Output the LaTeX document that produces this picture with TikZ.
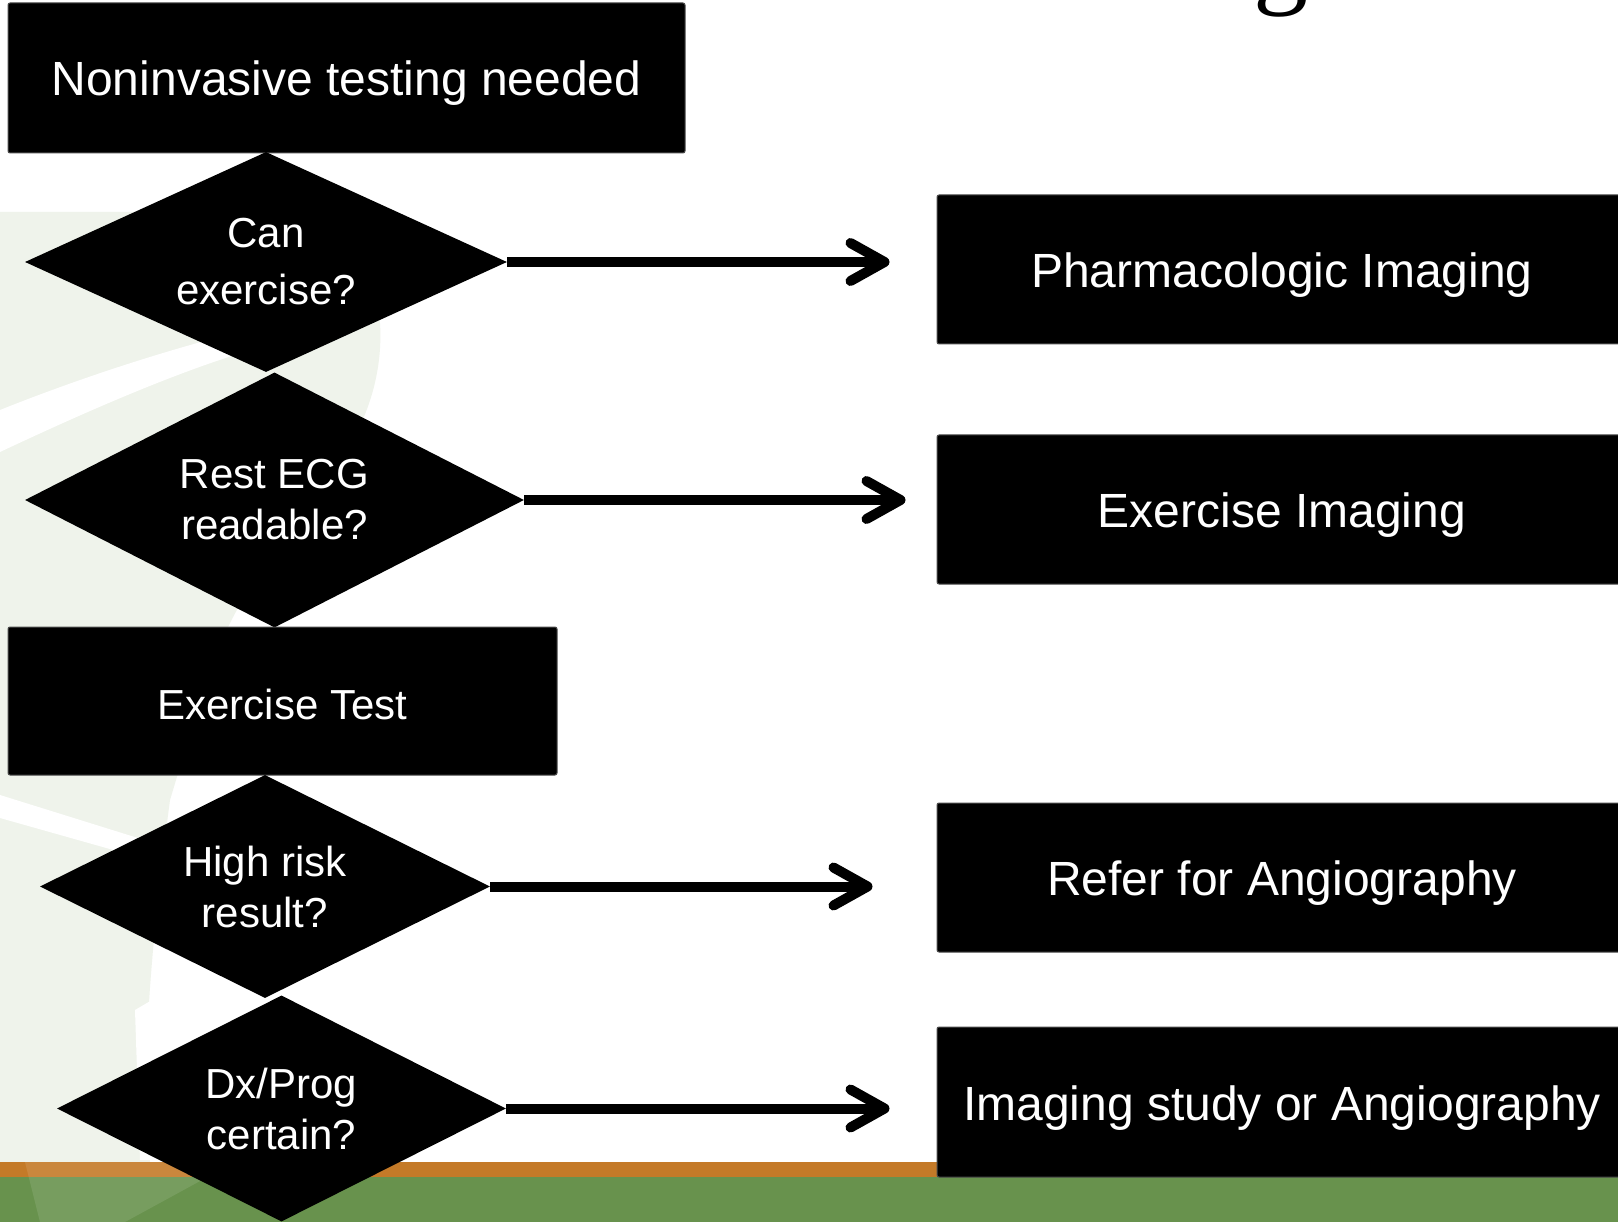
\documentclass[tikz,border=0pt]{standalone}
\usepackage{fontspec}
\setmainfont{Liberation Sans}
\newfontfamily\titlefont{Liberation Serif}
\usetikzlibrary{shapes.geometric,arrows.meta}
\definecolor{bandorange}{RGB}{196,122,40}
\definecolor{bandgreen}{RGB}{104,146,77}
\definecolor{swoosh}{RGB}{239,243,235}
\newcommand\BoxFont{\fontsize{48}{55}\selectfont}
\newcommand\AskFont{\fontsize{42}{51}\selectfont}

\begin{document}
\begin{tikzpicture}[x=1pt,y=-1pt,% y runs downwards, 1 unit = 1 pixel of the slide
		every node/.style={
			align=center,		% so that "\\" breaks the line
			inner sep=0pt
		},
		box/.style={rectangle,fill=black,draw=black!70,line width=1pt,rounded corners=2pt,text=white,font=\BoxFont,
			text height=44pt,text depth=8pt},	% keeps the baseline where the slide has it
		ask/.style={diamond,aspect=2.2,fill=black,text=white,font=\AskFont},
		every edge/.style={draw,line width=10pt,-{Straight Barb[length=34pt,width=38pt,round]}}
	]
	\useasboundingbox (0,0) rectangle (1618,1222);
	\clip (0,0) rectangle (1618,1222);
	% slide background
	\fill[white] (0,0) rectangle (1618,1222);
	\fill[swoosh] (0,212) -- (290,212) .. controls (400,225) and (405,390) .. (330,470)
		.. controls (260,560) and (215,640) .. (200,700) -- (170,800)
		.. controls (150,950) and (140,1080) .. (150,1162) -- (0,1162) -- cycle;
	\fill[white] (0,410) .. controls (100,370) and (200,340) .. (280,322) -- (280,342)
		.. controls (200,362) and (100,405) .. (0,452) -- cycle;
	\fill[white] (0,795) -- (170,848) -- (170,866) -- (0,818) -- cycle;
	\fill[white] (135,1010) -- (152,1000) -- (160,1160) -- (140,1160) -- cycle;
	\fill[bandorange] (0,1162) rectangle (1618,1177);
	\fill[bandgreen] (0,1177) rectangle (1618,1222);
	\fill[white,opacity=.1] (25,1162) -- (235,1162) -- (125,1222) -- (40,1222) -- cycle;
	\node[font=\titlefont\fontsize{110}{110}\selectfont,anchor=base](titleg) at (1281,-6) {g};

	% left column
	\node[box,minimum width=677pt,minimum height=150pt](noninv) at (346.5,78) {Noninvasive testing needed};
	\node[ask,font=\fontsize{42}{57}\selectfont,minimum width=482pt,minimum height=220pt](canex) at (266,262) {Can\\exercise?};
	\node[ask,minimum width=499pt,minimum height=255pt](ecg) at (274.5,500) {Rest ECG\\readable?};
	\node[box,font=\AskFont,minimum width=549pt,minimum height=148pt](extest) at (282.5,701) {Exercise Test};
	\node[ask,minimum width=450pt,minimum height=223pt](risk) at (265,886.5) {High risk\\result?};
	\node[ask,minimum width=449pt,minimum height=226pt](dxprog) at (281.5,1108.5) {Dx/Prog\\certain?};

	% right column
	\node[box,minimum width=690pt,minimum height=149pt](pharm) at (1282,269.5) {Pharmacologic Imaging};
	\node[box,minimum width=690pt,minimum height=149pt](eximg) at (1282,509.5) {Exercise Imaging};
	\node[box,minimum width=690pt,minimum height=149pt](refer) at (1282,877.5) {Refer for Angiography};
	\node[box,minimum width=690pt,minimum height=150pt](imgang) at (1282,1102) {Imaging study or Angiography};

	\path
	(canex.east) edge [shorten >=47pt] (canex.east -| pharm.west)
	(ecg.east) edge [shorten >=31pt] (ecg.east -| eximg.west)
	(risk.east) edge [shorten >=64pt] (risk.east -| refer.west)
	(dxprog.east) edge [shorten >=47pt] (dxprog.east -| imgang.west)
	;
\end{tikzpicture}
\end{document}
